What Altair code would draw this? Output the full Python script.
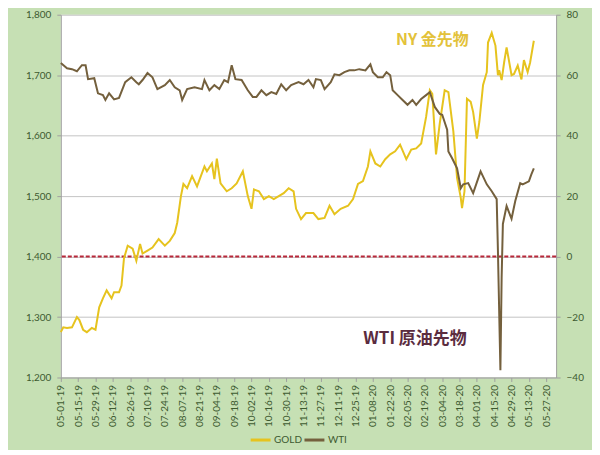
import altair as alt
import pandas as pd
from datetime import date, timedelta

# ---- data (day offsets counted from 2019-05-01) ----
gold_day = [0, 2, 5, 9, 13, 15, 18, 21, 25, 28, 31, 34, 37, 41, 43, 47, 49, 51, 54, 58,
            61, 64, 66, 70, 74, 79, 84, 88, 92, 94, 97, 99, 102, 106, 110, 116, 118, 122, 124, 126,
            129, 134, 138, 142, 147, 151, 154, 156, 160, 164, 168, 172, 176, 180, 184, 188, 190, 194, 198, 204,
            208, 213, 217, 221, 226, 232, 236, 240, 244, 248, 250, 254, 258, 262, 266, 270, 274, 279, 283, 287,
            291, 295, 298, 300, 303, 306, 310, 313, 317, 320, 323, 324, 326, 328, 331, 333, 336, 338, 341, 344,
            345, 348, 351, 353, 354, 356, 358, 360, 364, 366, 369, 372, 374, 377, 379, 382]
gold_val = [1275, 1283, 1282, 1283, 1300, 1295, 1279, 1275, 1282, 1279, 1316, 1331, 1344, 1331, 1341, 1341, 1352, 1397, 1418, 1413,
            1393, 1421, 1405, 1410, 1415, 1429, 1418, 1426, 1439, 1456, 1500, 1520, 1513, 1533, 1516, 1549, 1541, 1554, 1528, 1562,
            1521, 1508, 1513, 1521, 1541, 1500, 1479, 1511, 1508, 1495, 1500, 1495, 1500, 1505, 1513, 1508, 1479, 1462, 1472, 1472,
            1462, 1464, 1484, 1470, 1479, 1484, 1495, 1520, 1525, 1549, 1574, 1554, 1549, 1561, 1569, 1574, 1585, 1561, 1577, 1579,
            1587, 1631, 1675, 1669, 1569, 1620, 1675, 1672, 1607, 1530, 1497, 1480, 1508, 1661, 1656, 1639, 1595, 1623, 1684, 1705,
            1754, 1770, 1749, 1700, 1708, 1692, 1721, 1746, 1700, 1702, 1716, 1693, 1725, 1705, 1721, 1757]

wti_day = [0, 5, 9, 13, 17, 20, 22, 27, 30, 34, 36, 39, 43, 47, 52, 57, 61, 63, 66, 70,
           74, 78, 84, 88, 92, 96, 98, 102, 108, 114, 116, 120, 124, 128, 132, 135, 138, 141, 146, 151,
           155, 158, 162, 166, 170, 174, 178, 182, 186, 192, 196, 200, 204, 206, 210, 213, 218, 221, 225, 229,
           233, 237, 241, 246, 250, 252, 256, 260, 263, 266, 268, 272, 276, 280, 284, 287, 291, 295, 298, 302,
           306, 308, 312, 313, 316, 320, 323, 325, 329, 333, 339, 344, 348, 352, 353, 355, 356, 357, 360, 364,
           367, 371, 373, 378, 380, 382]
wti_val = [64.0, 62.3, 62.0, 61.3, 63.3, 63.3, 58.7, 59.0, 54.0, 53.4, 51.8, 54.0, 52.0, 52.5, 57.7, 59.3, 57.7, 57.0, 58.4, 60.7,
           59.3, 55.4, 56.7, 58.4, 56.0, 55.0, 51.8, 55.4, 56.0, 55.4, 58.4, 55.0, 56.7, 55.4, 58.4, 57.7, 63.3, 58.7, 58.4, 55.0,
           52.8, 52.8, 55.0, 53.4, 54.4, 53.8, 57.0, 55.0, 56.7, 57.7, 57.0, 58.4, 56.0, 58.7, 58.4, 55.4, 57.7, 60.3, 60.0, 61.0,
           61.6, 61.6, 62.0, 61.6, 63.6, 61.0, 59.3, 59.3, 61.0, 60.0, 55.0, 53.4, 51.8, 50.2, 51.8, 50.2, 52.1, 53.4, 54.4, 49.5,
           47.2, 46.9, 42.0, 34.8, 32.5, 29.2, 22.6, 23.9, 24.3, 21.0, 28.2, 23.9, 21.6, 19.0, 2.0, -37.6, -6.9, 10.8, 16.7, 12.5,
           18.4, 24.3, 23.9, 24.9, 27.2, 29.2]

tick_labels = ["05-01-19", "05-15-19", "05-29-19", "06-12-19", "06-26-19", "07-10-19", "07-24-19", "08-07-19",
               "08-21-19", "09-04-19", "09-18-19", "10-02-19", "10-16-19", "10-30-19", "11-13-19", "11-27-19",
               "12-11-19", "12-25-19", "01-08-20", "01-22-20", "02-05-20", "02-19-20", "03-04-20", "03-18-20",
               "04-01-20", "04-15-20", "04-29-20", "05-13-20", "05-27-20"]
gold_ticks = [1200, 1300, 1400, 1500, 1600, 1700, 1800]
wti_ticks = [-40, -20, 0, 20, 40, 60, 80]
zero_level = [1400]

ann_labels = ["NY 金先物", "WTI 原油先物"]
ann_day = [300, 286]
ann_val = [1758, 1264]

series_names = ["GOLD", "WTI"]

# ---- styling ----
GOLD_C = "#e6c31e"
WTI_C = "#74603d"
RED_C = "#b8283a"
TXT_C = "#3d5a30"
GRID_C = "#c4c4c4"
FONT = "Lato"

START = date(2019, 5, 1)


def to_date(d):
    return (START + timedelta(days=d)).isoformat()


def to_dt(lbl):
    m, d, y = lbl.split("-")
    return alt.DateTime(year=2000 + int(y), month=int(m), date=int(d), utc=True)


gold_df = pd.DataFrame({"date": [to_date(d) for d in gold_day], "value": gold_val, "series": "GOLD"})
wti_df = pd.DataFrame({"date": [to_date(d) for d in wti_day], "value": wti_val, "series": "WTI"})
zero_df = pd.DataFrame({"value": zero_level})
ann_df = pd.DataFrame({"date": [to_date(d) for d in ann_day], "value": ann_val, "label": ann_labels})

x_enc = alt.X(
    "date:T",
    title=None,
    scale=alt.Scale(type="utc",
                    domain=[alt.DateTime(year=2019, month=5, date=1, utc=True),
                            alt.DateTime(year=2020, month=6, date=4, utc=True)]),
    axis=alt.Axis(values=[to_dt(t) for t in tick_labels], format="%m-%d-%y", labelAngle=-90,
                  labelFont=FONT, labelFontSize=10, labelColor=TXT_C, labelPadding=3,
                  tickColor="#a0a0a0", tickSize=4, domainColor="#a0a0a0", grid=False,
                  labelOverlap=False),
)

color_enc = alt.Color(
    "series:N",
    scale=alt.Scale(domain=series_names, range=[GOLD_C, WTI_C]),
    legend=alt.Legend(title=None, orient="none", legendX=189, legendY=415, direction="horizontal",
                      symbolType="stroke", symbolSize=400, symbolStrokeWidth=3,
                      labelFont=FONT, labelFontSize=10, labelColor=TXT_C, labelOffset=2,
                      columnPadding=-6),
)

y_gold = alt.Y("value:Q", title=None,
               scale=alt.Scale(domain=[1200, 1800], nice=False, zero=False),
               axis=alt.Axis(orient="left", values=gold_ticks, format=",.0f", grid=True, gridColor=GRID_C,
                             gridWidth=1, labelFont=FONT, labelFontSize=10, labelColor=TXT_C,
                             tickSize=4, tickColor="#a0a0a0", domainColor="#a0a0a0", labelPadding=6))

gold_line = alt.Chart(gold_df).mark_line(strokeWidth=2).encode(x=x_enc, y=y_gold, color=color_enc)

zero_rule = alt.Chart(zero_df).mark_rule(color=RED_C, strokeDash=[4, 2], strokeWidth=2).encode(
    y=alt.Y("value:Q"))

ann_gold = alt.Chart(ann_df).transform_filter(alt.datum.label == ann_labels[0]).mark_text(
    font="Noto Sans CJK JP", fontSize=16, fontWeight="bold", color="#e3c23a",
    align="center", baseline="middle").encode(x=x_enc, y=alt.Y("value:Q"), text="label:N")

ann_wti = alt.Chart(ann_df).transform_filter(alt.datum.label == ann_labels[1]).mark_text(
    font="Noto Sans CJK JP", fontSize=17, fontWeight="bold", color="#5b2c3f",
    align="center", baseline="middle").encode(x=x_enc, y=alt.Y("value:Q"), text="label:N")

gold_layer = alt.layer(zero_rule, gold_line, ann_gold, ann_wti)

wti_line = alt.Chart(wti_df).mark_line(strokeWidth=2).encode(
    x=x_enc,
    y=alt.Y("value:Q", title=None,
            scale=alt.Scale(domain=[-40, 80], nice=False, zero=False),
            axis=alt.Axis(orient="right", values=wti_ticks, grid=False, labelFont=FONT, labelFontSize=10,
                          labelColor=TXT_C, tickSize=4, tickColor="#a0a0a0", domainColor="#a0a0a0",
                          labelPadding=6)),
    color=color_enc,
)

chart = alt.layer(gold_layer, wti_line).resolve_scale(y="independent").properties(
    width=497, height=364,
    padding={"left": 53, "top": 6, "right": 36, "bottom": 72},
    autosize=alt.AutoSizeParams(type="none"),
    background="#c6e0b4",
).configure_view(fill="white", stroke=None)

chart.save("out.html", embed_options={"renderer": "svg", "actions": False})
